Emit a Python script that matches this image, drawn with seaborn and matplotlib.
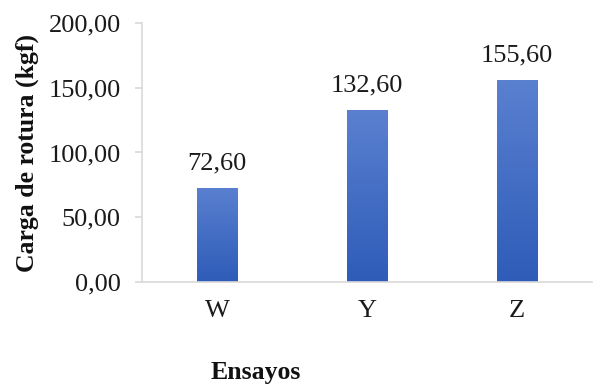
import matplotlib
matplotlib.use('Agg')
import numpy as np
import pandas as pd
import matplotlib.pyplot as plt
from matplotlib.colors import LinearSegmentedColormap
import seaborn as sns

# data
ensayos = ["W", "Y", "Z"]
carga = [72.60, 132.60, 155.60]

df = pd.DataFrame({"Ensayos": ensayos, "Carga": carga})

sns.set_theme(style="white")
plt.rcParams['font.family'] = ['Liberation Serif', 'DejaVu Serif']

fig = plt.figure(figsize=(6.0, 3.89), dpi=100)
ax = fig.add_axes([0.237, 0.275, 0.75, 0.666])

sns.barplot(data=df, x="Ensayos", y="Carga", color="#3d68c4", width=0.27,
            saturation=1, ax=ax)

# gradient fill (lighter top, darker bottom)
cmap = LinearSegmentedColormap.from_list("g", ["#2e5cb8", "#5a80d0"])
grad = np.linspace(0, 1, 256).reshape(-1, 1)
for p in ax.patches:
    x0, y0 = p.get_x(), p.get_y()
    w, h = p.get_width(), p.get_height()
    im = ax.imshow(grad, extent=[x0, x0 + w, y0, y0 + h], origin="lower",
                   cmap=cmap, aspect="auto", zorder=p.get_zorder() + 0.1)
    im.set_clip_path(p)

ax.set_xlim(-0.5, 2.5)
ax.set_ylim(0, 200)
ax.set_yticks([0, 50, 100, 150, 200])
ax.set_yticklabels([f"{v:.2f}".replace(".", ",") for v in [0, 50, 100, 150, 200]])

for i, v in enumerate(carga):
    ax.text(i, v + 14.5, f"{v:.2f}".replace(".", ","), ha="center", va="baseline",
            fontsize=19, color="#1a1a1a")

for s in ["top", "right"]:
    ax.spines[s].set_visible(False)
for s in ["left", "bottom"]:
    ax.spines[s].set_color("#d9d9d9")
    ax.spines[s].set_linewidth(1.2)

ax.tick_params(axis="y", length=5, width=1.2, color="#d9d9d9", labelsize=19,
               labelcolor="#1a1a1a", pad=10.5, left=True)
ax.tick_params(axis="x", length=0, labelsize=19, labelcolor="#1a1a1a", pad=13)

ax.set_xlabel("")
ax.set_ylabel("")
fig.text(0.045, 0.607, "Carga de rotura (kgf)", fontsize=18.5, fontweight="bold",
         color="#111111", ha="center", va="center", rotation=90)
fig.text(0.427, 0.043, "Ensayos", fontsize=18.5, fontweight="bold",
         color="#111111", ha="center", va="center")

fig.savefig("out.png", dpi=100)
